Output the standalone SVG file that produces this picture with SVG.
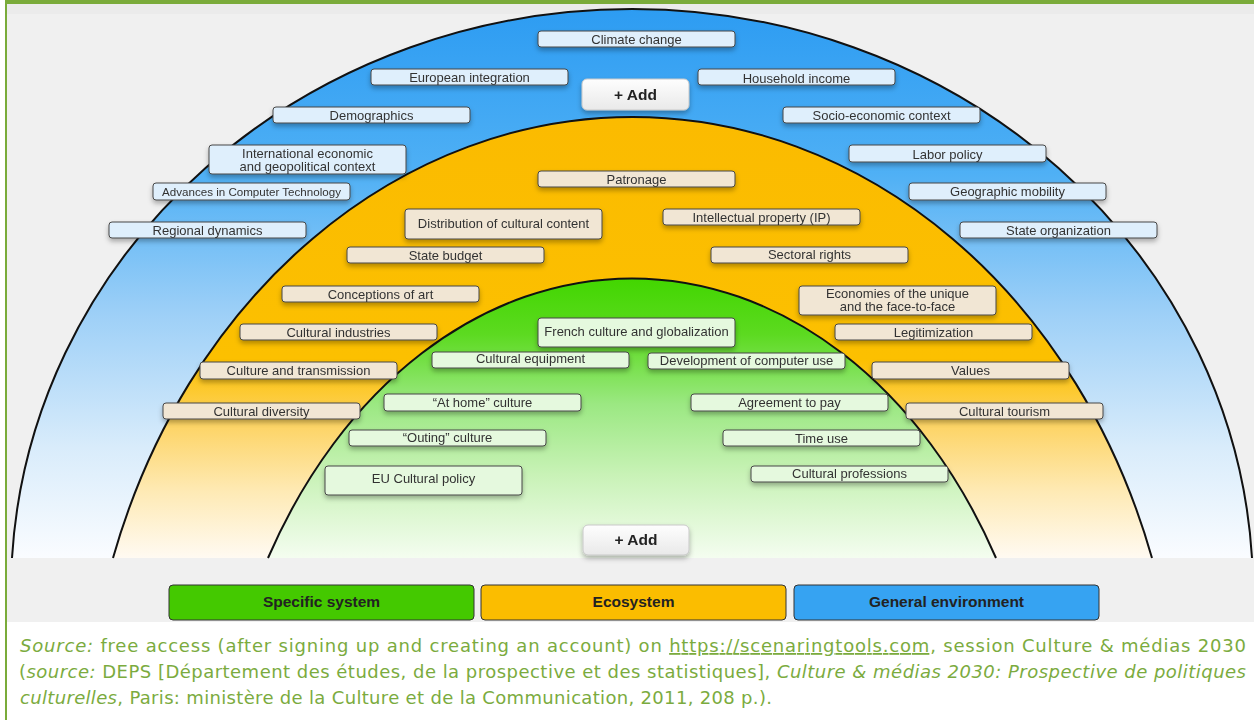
<svg xmlns="http://www.w3.org/2000/svg" width="1254" height="720" viewBox="0 0 1254 720">
<defs>
<linearGradient id="gBlue" gradientUnits="userSpaceOnUse" x1="0" y1="9" x2="0" y2="558">
<stop offset="0" stop-color="#2d9cf2"/><stop offset="0.3" stop-color="#4fb0f5"/><stop offset="0.55" stop-color="#9ccff7"/><stop offset="0.8" stop-color="#d9ecfb"/><stop offset="1" stop-color="#fafcff"/>
</linearGradient>
<linearGradient id="gYellow" gradientUnits="userSpaceOnUse" x1="0" y1="117" x2="0" y2="558">
<stop offset="0" stop-color="#fbbb00"/><stop offset="0.55" stop-color="#fcc000"/><stop offset="0.7" stop-color="#fdd466"/><stop offset="0.85" stop-color="#feeab5"/><stop offset="1" stop-color="#fffaf2"/>
</linearGradient>
<linearGradient id="gGreen" gradientUnits="userSpaceOnUse" x1="0" y1="278" x2="0" y2="558">
<stop offset="0" stop-color="#42d600"/><stop offset="0.2" stop-color="#5cda20"/><stop offset="0.45" stop-color="#9be882"/><stop offset="0.7" stop-color="#c8f2b6"/><stop offset="1" stop-color="#f4fdf0"/>
</linearGradient>
<linearGradient id="gBtn" x1="0" y1="0" x2="0" y2="1">
<stop offset="0" stop-color="#fefefe"/><stop offset="1" stop-color="#e9e9e9"/>
</linearGradient>
<filter id="sh" x="-10%" y="-40%" width="120%" height="200%">
<feDropShadow dx="0" dy="3" stdDeviation="2.5" flood-color="#000" flood-opacity="0.3"/>
</filter>
</defs>
<style>
.lbl rect{stroke:#474747;stroke-width:1}
.lb rect{fill:#dfeffc}
.ly rect{fill:#f1e6d4}
.lg rect{fill:#e5f9de}
.lbl text{font-family:"Liberation Sans",Arial,sans-serif;font-size:13px;fill:#333;text-anchor:middle}
.btn rect{fill:url(#gBtn);stroke:#c8c8c8;stroke-width:1}
.btn text{font-family:"Liberation Sans",Arial,sans-serif;font-size:15.5px;font-weight:bold;fill:#222;text-anchor:middle}
.leg rect{stroke:#333;stroke-width:1}
.leg text{font-family:"Liberation Sans",Arial,sans-serif;font-size:15.5px;font-weight:bold;fill:#222;text-anchor:middle}
.arc{fill:none;stroke:#111;stroke-width:2}
.src{font-family:"DejaVu Sans",sans-serif;font-size:18px;fill:#7bab3e}
.it{font-style:italic}
</style>
<rect x="0" y="0" width="1254" height="720" fill="#ffffff"/>
<rect x="7" y="4" width="1247" height="618" fill="#f0f0f0"/>
<rect x="7" y="4" width="1247" height="10" fill="#ebebeb"/>
<rect x="5" y="0" width="1249" height="4" fill="#7aab3a"/>
<rect x="5" y="0" width="2" height="720" fill="#7aab3a"/>

<g id="zones">
<path d="M12,558 A621,582 0 0 1 1252,558 Z" fill="url(#gBlue)"/>
<path class="arc" d="M12,558 A621,582 0 0 1 1252,558"/>
<path d="M113,558 A548,647 0 0 1 1152,558 Z" fill="url(#gYellow)"/>
<path class="arc" d="M113,558 A548,647 0 0 1 1152,558"/>
<path d="M268,558 A420,558 0 0 1 996,558 Z" fill="url(#gGreen)"/>
<path class="arc" d="M268,558 A420,558 0 0 1 996,558"/>
</g>

<g id="connectors"></g>

<g id="n-climate" class="lbl lb" filter="url(#sh)"><rect x="538" y="31" width="197" height="16" rx="3"/><text x="636.5" y="44">Climate change</text></g>
<g id="n-european" class="lbl lb" filter="url(#sh)"><rect x="371" y="69" width="197" height="16" rx="3"/><text x="469.5" y="82">European integration</text></g>
<g id="n-household" class="lbl lb" filter="url(#sh)"><rect x="698" y="69" width="197" height="16" rx="3"/><text x="796.5" y="82.5">Household income</text></g>
<g id="n-demographics" class="lbl lb" filter="url(#sh)"><rect x="273" y="107" width="197" height="16" rx="3"/><text x="371.5" y="120">Demographics</text></g>
<g id="n-socio" class="lbl lb" filter="url(#sh)"><rect x="783" y="107" width="197" height="16" rx="3"/><text x="881.5" y="120">Socio-economic context</text></g>
<g id="n-international" class="lbl lb" filter="url(#sh)"><rect x="209" y="145" width="197" height="29" rx="3"/><text x="307.5" y="158">International economic</text><text x="307.5" y="170.5">and geopolitical context</text></g>
<g id="n-labor" class="lbl lb" filter="url(#sh)"><rect x="849" y="145" width="197" height="17" rx="3"/><text x="947.5" y="158.5">Labor policy</text></g>
<g id="n-advances" class="lbl lb" filter="url(#sh)"><rect x="153" y="183" width="197" height="17" rx="3"/><text x="251.5" y="196" style="font-size:11.6px">Advances in Computer Technology</text></g>
<g id="n-geographic" class="lbl lb" filter="url(#sh)"><rect x="909" y="183" width="197" height="17" rx="3"/><text x="1007.5" y="196">Geographic mobility</text></g>
<g id="n-regional" class="lbl lb" filter="url(#sh)"><rect x="109" y="222" width="197" height="16" rx="3"/><text x="207.5" y="234.5">Regional dynamics</text></g>
<g id="n-stateorg" class="lbl lb" filter="url(#sh)"><rect x="960" y="222" width="197" height="16" rx="3"/><text x="1058.5" y="235">State organization</text></g>

<g id="n-patronage" class="lbl ly" filter="url(#sh)"><rect x="538" y="171" width="197" height="16" rx="3"/><text x="636.5" y="183.5">Patronage</text></g>
<g id="n-distribution" class="lbl ly" filter="url(#sh)"><rect x="405" y="209" width="197" height="30" rx="3"/><text x="503.5" y="228">Distribution of cultural content</text></g>
<g id="n-ip" class="lbl ly" filter="url(#sh)"><rect x="663" y="209" width="197" height="16" rx="3"/><text x="761.5" y="221.5">Intellectual property (IP)</text></g>
<g id="n-statebudget" class="lbl ly" filter="url(#sh)"><rect x="347" y="247" width="197" height="16" rx="3"/><text x="445.5" y="259.5">State budget</text></g>
<g id="n-sectoral" class="lbl ly" filter="url(#sh)"><rect x="711" y="247" width="197" height="16" rx="3"/><text x="809.5" y="259">Sectoral rights</text></g>
<g id="n-conceptions" class="lbl ly" filter="url(#sh)"><rect x="282" y="286" width="197" height="16" rx="3"/><text x="380.5" y="298.5">Conceptions of art</text></g>
<g id="n-economies" class="lbl ly" filter="url(#sh)"><rect x="799" y="286" width="197" height="29" rx="3"/><text x="897.5" y="298">Economies of the unique</text><text x="897.5" y="311">and the face-to-face</text></g>
<g id="n-industries" class="lbl ly" filter="url(#sh)"><rect x="240" y="324" width="197" height="16" rx="3"/><text x="338.5" y="336.5">Cultural industries</text></g>
<g id="n-legitimization" class="lbl ly" filter="url(#sh)"><rect x="835" y="324" width="197" height="16" rx="3"/><text x="933.5" y="336.5">Legitimization</text></g>
<g id="n-transmission" class="lbl ly" filter="url(#sh)"><rect x="200" y="362" width="197" height="17" rx="3"/><text x="298.5" y="375">Culture and transmission</text></g>
<g id="n-values" class="lbl ly" filter="url(#sh)"><rect x="872" y="362" width="197" height="17" rx="3"/><text x="970.5" y="375">Values</text></g>
<g id="n-diversity" class="lbl ly" filter="url(#sh)"><rect x="163" y="403" width="197" height="16" rx="3"/><text x="261.5" y="415.5">Cultural diversity</text></g>
<g id="n-tourism" class="lbl ly" filter="url(#sh)"><rect x="906" y="403" width="197" height="16" rx="3"/><text x="1004.5" y="416">Cultural tourism</text></g>

<g id="n-french" class="lbl lg" filter="url(#sh)"><rect x="538" y="318" width="197" height="29" rx="3"/><text x="636.5" y="336">French culture and globalization</text></g>
<g id="n-equipment" class="lbl lg" filter="url(#sh)"><rect x="432" y="352" width="197" height="16" rx="3"/><text x="530.5" y="363">Cultural equipment</text></g>
<g id="n-development" class="lbl lg" filter="url(#sh)"><rect x="648" y="353" width="197" height="16" rx="3"/><text x="746.5" y="364.5">Development of computer use</text></g>
<g id="n-athome" class="lbl lg" filter="url(#sh)"><rect x="384" y="394" width="197" height="17" rx="3"/><text x="482.5" y="406.5">“At home” culture</text></g>
<g id="n-agreement" class="lbl lg" filter="url(#sh)"><rect x="691" y="394" width="197" height="17" rx="3"/><text x="789.5" y="406.5">Agreement to pay</text></g>
<g id="n-outing" class="lbl lg" filter="url(#sh)"><rect x="349" y="430" width="197" height="16" rx="3"/><text x="447.5" y="442">“Outing” culture</text></g>
<g id="n-timeuse" class="lbl lg" filter="url(#sh)"><rect x="723" y="430" width="197" height="16" rx="3"/><text x="821.5" y="442.5">Time use</text></g>
<g id="n-eu" class="lbl lg" filter="url(#sh)"><rect x="325" y="466" width="197" height="29" rx="3"/><text x="423.5" y="483">EU Cultural policy</text></g>
<g id="n-professions" class="lbl lg" filter="url(#sh)"><rect x="751" y="466" width="197" height="16" rx="3"/><text x="849.5" y="478">Cultural professions</text></g>

<g id="n-add-top" class="btn" filter="url(#sh)"><rect x="582" y="79" width="107" height="31" rx="5"/><text x="635.5" y="99.5">+ Add</text></g>
<g id="n-add-bottom" class="btn" filter="url(#sh)"><rect x="583" y="525" width="106" height="30" rx="5"/><text x="636" y="545">+ Add</text></g>

<g id="legend" class="leg">
<g id="leg-specific"><rect x="169" y="585" width="305" height="35" rx="4" fill="#44c900"/><text x="321.5" y="606.5">Specific system</text></g>
<g id="leg-eco"><rect x="481" y="585" width="305" height="35" rx="4" fill="#fbbd00"/><text x="633.5" y="606.5">Ecosystem</text></g>
<g id="leg-general"><rect x="794" y="585" width="305" height="35" rx="4" fill="#36a3f2"/><text x="946.5" y="606.5">General environment</text></g>
</g>

<g id="source">
<text class="src" x="20" y="652" textLength="1226" lengthAdjust="spacing"><tspan class="it">Source:</tspan> free access (after signing up and creating an account) on <tspan text-decoration="underline">https://scenaringtools.com</tspan>, session Culture &amp; médias 2030</text>
<text class="src" x="19" y="678" textLength="1227" lengthAdjust="spacing">(<tspan class="it">source:</tspan> DEPS [Département des études, de la prospective et des statistiques], <tspan class="it">Culture &amp; médias 2030: Prospective de politiques</tspan></text>
<text class="src" x="20" y="704" textLength="752" lengthAdjust="spacing"><tspan class="it">culturelles</tspan>, Paris: ministère de la Culture et de la Communication, 2011, 208 p.).</text>
</g>
</svg>
